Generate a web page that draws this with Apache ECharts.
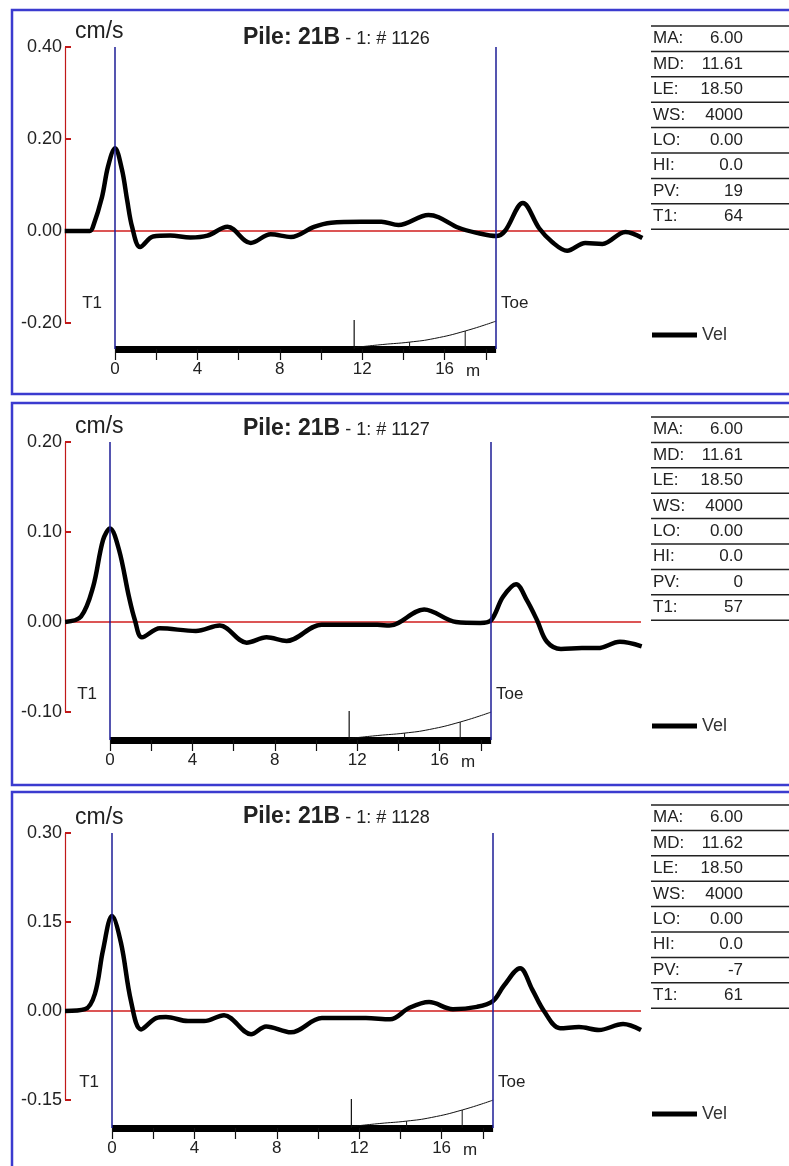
<!DOCTYPE html>
<html>
<head>
<meta charset="utf-8">
<script src="https://cdn.jsdelivr.net/npm/echarts@6/dist/echarts.min.js"></script>
<style>
html,body{margin:0;padding:0;background:#fff}
#chart{width:789px;height:1166px}
</style>
</head>
<body>
<div id="chart"></div>
<script>
// --- data (depth in m from T1, velocity in cm/s)
var records = ['1126', '1127', '1128']

var depth1 = [-2.44, -1.22, -1.07, -0.63, -0.34, 0, 0.34, 0.59, 0.83, 1.22, 1.85, 2.68, 3.66, 4.49, 5.46, 6.59, 7.56, 8.54, 9.66, 10.49, 11.95, 12.93, 13.76, 15.22, 15.71, 16.68, 17.66, 18.5, 18.93, 19.8, 20.59, 21.22, 21.95, 22.83, 23.66, 24.78, 25.6]
var vel1 = [0, 0, 0.009, 0.074, 0.14, 0.18, 0.133, 0.067, 0.009, -0.035, -0.012, -0.010, -0.014, -0.010, 0.009, -0.026, -0.007, -0.013, 0.009, 0.018, 0.020, 0.020, 0.013, 0.035, 0.030, 0.007, -0.005, -0.011, 0.0, 0.061, 0.006, -0.024, -0.043, -0.026, -0.028, -0.002, -0.015]

var depth2 = [-2.18, -1.41, -0.82, -0.34, 0, 0.44, 0.92, 1.21, 1.55, 2.42, 4.17, 5.33, 6.63, 7.6, 8.57, 10.27, 12.98, 13.56, 15.25, 16.8, 17.97, 18.5, 19.08, 19.71, 20.24, 20.73, 21.21, 21.89, 22.91, 23.68, 24.75, 25.81]
var vel2 = [0, 0.006, 0.039, 0.091, 0.104, 0.08, 0.028, 0.002, -0.017, -0.007, -0.010, -0.004, -0.023, -0.017, -0.021, -0.003, -0.003, -0.004, 0.014, 0.0, -0.001, 0.002, 0.028, 0.042, 0.024, 0.002, -0.022, -0.030, -0.029, -0.029, -0.022, -0.027]

var depth3 = [-2.28, -1.31, -0.83, -0.44, 0, 0.44, 0.92, 1.41, 2.14, 2.62, 3.69, 4.47, 5.44, 6.75, 7.48, 8.69, 10.19, 12.33, 13.5, 14.42, 15.39, 16.55, 17.72, 18.5, 19.03, 19.81, 20.39, 20.97, 21.75, 22.67, 23.64, 24.81, 25.68]
var vel3 = [0, 0.003, 0.029, 0.102, 0.16, 0.114, 0.017, -0.031, -0.012, -0.010, -0.017, -0.017, -0.007, -0.039, -0.026, -0.036, -0.012, -0.012, -0.014, 0.005, 0.015, 0.003, 0.007, 0.017, 0.043, 0.072, 0.037, 0, -0.029, -0.027, -0.032, -0.022, -0.032]

var yMax = [0.4, 0.2, 0.3]
var yMin = [-0.2, -0.1, -0.15]
var yStep = [0.2, 0.1, 0.15]

var pileLength = 18.5
var barTicks = [0, 2, 4, 6, 8, 10, 12, 14, 16, 18]
var barLabels = [0, 4, 8, 12, 16]

// impedance sketch under the trace (relative height 0..1)
var mdDepth = [11.61, 11.61, 11.62]
var profileDepth = [13, 14.3, 15.5, 17, 18.5]
var profileVal = [0.15, 0.23, 0.35, 0.6, 0.93]
var profileTickDepth = [14.3, 17.0]
var profileTickVal = [0.23, 0.6]

var tableKeys = ['MA:', 'MD:', 'LE:', 'WS:', 'LO:', 'HI:', 'PV:', 'T1:']
var tableVals1 = ['6.00', '11.61', '18.50', '4000', '0.00', '0.0', '19', '64']
var tableVals2 = ['6.00', '11.61', '18.50', '4000', '0.00', '0.0', '0', '57']
var tableVals3 = ['6.00', '11.62', '18.50', '4000', '0.00', '0.0', '-7', '61']

// --- layout
var FONT = '"Liberation Sans", Arial, sans-serif'
var zeroY = [231, 622, 1010]
var topY = [47, 442, 833]
var botY = [323, 712, 1100]
var t1X = [115, 110, 112]
var PXM = 20.6
var plotL = 65, plotR = 641
var panelBox = [[10, 384], [403, 382], [792, 400]]

var depths = [depth1, depth2, depth3]
var vels = [vel1, vel2, vel3]
var tables = [tableVals1, tableVals2, tableVals3]

var zip = function (a, b) { return a.map(function (x, i) { return [x, b[i]] }) }

var grid = [], xAxis = [], yAxis = [], series = [], title = [], legend = [], graphic = []

for (var i = 0; i < 3; i++) {
  var barW = pileLength * PXM
  var g = i * 3
  var xLo = (plotL - t1X[i]) / PXM, xHi = (plotR - t1X[i]) / PXM
  grid.push({ left: plotL, top: topY[i], width: plotR - plotL, height: botY[i] - topY[i] })
  grid.push({ left: t1X[i], top: topY[i], width: barW, height: zeroY[i] + 118 - topY[i] })
  grid.push({ left: t1X[i], top: zeroY[i] + 88, width: barW, height: 30 })

  xAxis.push({ gridIndex: g, type: 'value', min: xLo, max: xHi, show: false })
  xAxis.push({
    gridIndex: g + 1, type: 'value', min: 0, max: pileLength, position: 'bottom',
    axisLine: { onZero: false, lineStyle: { color: '#000', width: 7, cap: 'butt' } },
    axisTick: { customValues: barTicks, length: 11, lineStyle: { color: '#111', width: 1.2 } },
    axisLabel: { customValues: barLabels, margin: 12, fontSize: 17, color: '#222', fontFamily: FONT },
    splitLine: { show: false }
  })
  xAxis.push({ gridIndex: g + 2, type: 'value', min: 0, max: pileLength, show: false })

  yAxis.push({
    gridIndex: g, type: 'value', min: yMin[i], max: yMax[i], interval: yStep[i],
    name: 'cm/s', nameLocation: 'end', nameGap: 4,
    nameTextStyle: { align: 'left', fontSize: 23, color: '#222', fontFamily: FONT, padding: [0, 0, 0, 10] },
    axisLine: { show: true, onZero: false, lineStyle: { color: '#c01818', width: 1.2 } },
    axisTick: { show: true, inside: true, length: 6, lineStyle: { color: '#c01818', width: 2 } },
    axisLabel: { formatter: function (v) { return v.toFixed(2) }, fontSize: 18, color: '#222', margin: 3, fontFamily: FONT },
    splitLine: { show: false }
  })
  yAxis.push({ gridIndex: g + 1, type: 'value', min: 0, max: 1, show: false })
  yAxis.push({ gridIndex: g + 2, type: 'value', min: 0, max: 1, show: false })

  // zero line
  series.push({
    type: 'line', xAxisIndex: g, yAxisIndex: g, data: [[xLo, 0], [xHi, 0]], symbol: 'none', silent: true,
    lineStyle: { color: '#d01c1c', width: 1.5 }, z: 1
  })
  series.push({
    type: 'line', name: 'Vel', xAxisIndex: g, yAxisIndex: g,
    data: zip(depths[i], vels[i]), smooth: 0.35, symbol: 'none',
    lineStyle: { color: '#000', width: 4.5 }, itemStyle: { color: '#000' }, z: 4
  })
  // T1 and toe markers
  series.push({
    type: 'line', xAxisIndex: g + 1, yAxisIndex: g + 1, data: [[0, 0]], symbol: 'none',
    lineStyle: { width: 0 },
    markLine: {
      silent: true, symbol: 'none', label: { show: false },
      lineStyle: { color: '#1c1c96', width: 1.5, type: 'solid' },
      data: [{ xAxis: 0 }, { xAxis: pileLength }]
    }
  })
  series.push({
    type: 'line', xAxisIndex: g + 2, yAxisIndex: g + 2,
    data: [[mdDepth[i], 0.05]].concat(zip(profileDepth, profileVal)),
    smooth: true, symbol: 'none', lineStyle: { color: '#111', width: 1 }
  })
  series.push({
    type: 'line', xAxisIndex: g + 2, yAxisIndex: g + 2,
    data: [[mdDepth[i], 0], [mdDepth[i], 0.97]], symbol: 'none', lineStyle: { color: '#111', width: 1.2 }
  })
  profileTickDepth.forEach(function (d, k) {
    series.push({
      type: 'line', xAxisIndex: g + 2, yAxisIndex: g + 2,
      data: [[d, 0], [d, profileTickVal[k]]], symbol: 'none', lineStyle: { color: '#111', width: 1 }
    })
  })

  title.push({
    text: '{b|Pile: 21B}{n| - 1: # ' + records[i] + '}',
    left: 238, top: zeroY[i] - 210,
    textStyle: {
      rich: {
        b: { fontSize: 23, fontWeight: 'bold', color: '#222', fontFamily: FONT, verticalAlign: 'bottom' },
        n: { fontSize: 18, fontWeight: 'normal', color: '#222', fontFamily: FONT, verticalAlign: 'bottom', padding: [0, 0, 1, 0] }
      }
    }
  })

  legend.push({
    data: ['Vel'], left: 647, top: zeroY[i] + 90, icon: 'rect', itemWidth: 45, itemHeight: 5,
    selectedMode: false, textStyle: { fontSize: 18, color: '#333', fontFamily: FONT }
  })

  // panel frame
  graphic.push({
    type: 'rect', shape: { x: 12, y: panelBox[i][0], width: 800, height: panelBox[i][1] },
    style: { fill: 'none', stroke: '#3b3bcf', lineWidth: 2.5 }
  })
  // T1 / Toe / m labels
  graphic.push({ type: 'text', x: t1X[i] - 13, y: zeroY[i] + 72, style: { text: 'T1', fill: '#222', font: '17px ' + FONT, align: 'right', verticalAlign: 'middle' } })
  graphic.push({ type: 'text', x: t1X[i] + barW + 5, y: zeroY[i] + 72, style: { text: 'Toe', fill: '#222', font: '17px ' + FONT, align: 'left', verticalAlign: 'middle' } })
  graphic.push({ type: 'text', x: t1X[i] + 358, y: zeroY[i] + 140, style: { text: 'm', fill: '#222', font: '17px ' + FONT, align: 'center', verticalAlign: 'middle' } })

  // parameter table
  var tTop = zeroY[i] - 205, rowH = 25.4
  for (var k = 0; k <= tableKeys.length; k++) {
    graphic.push({ type: 'line', shape: { x1: 651, y1: tTop + k * rowH, x2: 789, y2: tTop + k * rowH }, style: { stroke: '#222', lineWidth: 1.5 } })
  }
  tableKeys.forEach(function (key, k) {
    var cy = tTop + (k + 0.5) * rowH
    graphic.push({ type: 'text', x: 653, y: cy, style: { text: key, fill: '#222', font: '17px ' + FONT, align: 'left', verticalAlign: 'middle' } })
    graphic.push({ type: 'text', x: 743, y: cy, style: { text: tables[i][k], fill: '#222', font: '17px ' + FONT, align: 'right', verticalAlign: 'middle' } })
  })
}

var chart = echarts.init(document.getElementById('chart'))
chart.setOption({
  backgroundColor: '#fff',
  animation: false,
  title: title,
  legend: legend,
  grid: grid,
  xAxis: xAxis,
  yAxis: yAxis,
  series: series,
  graphic: graphic
})
</script>
</body>
</html>
